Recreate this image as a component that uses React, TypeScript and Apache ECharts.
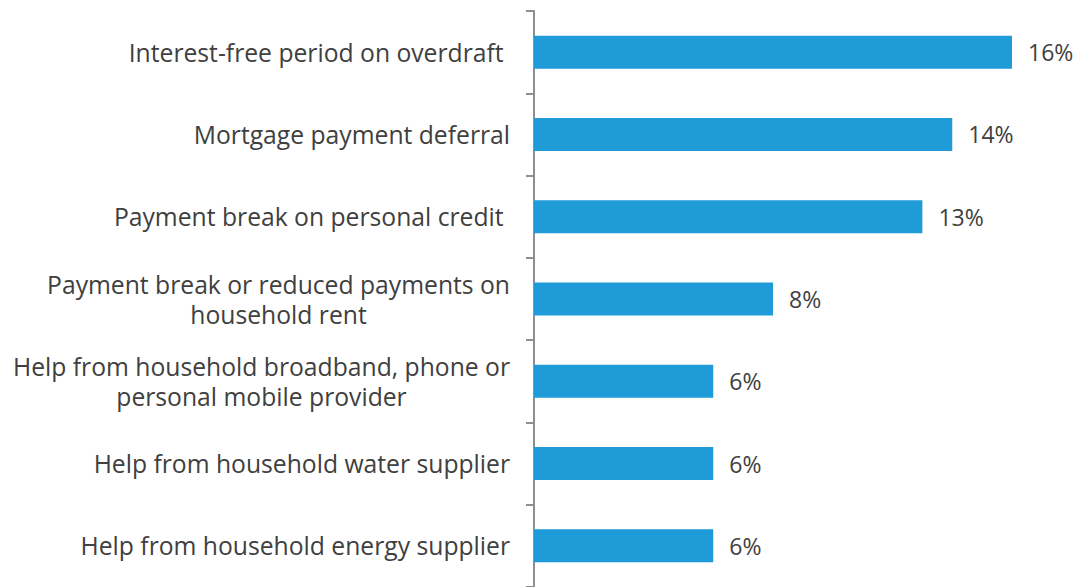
import React, { useEffect, useRef } from "react";
import * as echarts from "echarts";

const categories = [
  "Interest-free period on overdraft ",
  "Mortgage payment deferral",
  "Payment break on personal credit ",
  "Payment break or reduced payments on\nhousehold rent",
  "Help from household broadband, phone or\npersonal mobile provider",
  "Help from household water supplier",
  "Help from household energy supplier",
];
const values = [16, 14, 13, 8, 6, 6, 6];

const FONT = "Open Sans";
const FS = 24.7;

export default function App() {
  const ref = useRef<HTMLDivElement>(null);
  useEffect(() => {
    if (!ref.current) return;
    const chart = echarts.init(ref.current, undefined, { renderer: "svg" });
    chart.setOption({
      animation: false,
      grid: { left: 534, right: 64, top: 11, height: 576, containLabel: false },
      xAxis: {
        type: "value",
        min: 0,
        max: 16,
        show: false,
      },
      yAxis: {
        type: "category",
        inverse: true,
        data: categories,
        axisLine: { show: true, lineStyle: { color: "#8f8f8f", width: 2 } },
        axisTick: { show: true, length: 8, lineStyle: { color: "#8f8f8f", width: 2 } },
        axisLabel: {
          margin: 24,
          fontFamily: FONT,
          fontSize: FS,
          color: "#404040",
          lineHeight: 30,
          align: "right",
          formatter: (v: string) =>
            v
              .split("\n")
              .map((l) => `{c|${l}}`)
              .join("\n"),
          rich: {
            c: {
              align: "center",
              fontFamily: FONT,
              fontSize: FS,
              color: "#404040",
              lineHeight: 30,
            },
          },
        },
        splitLine: { show: false },
      },
      series: [
        {
          type: "bar",
          data: values,
          barWidth: 33,
          itemStyle: { color: "#1f9bd8" },
          label: {
            show: true,
            position: "right",
            distance: 16,
            formatter: "{c}%",
            fontFamily: FONT,
            fontSize: 23,
            color: "#404040",
          },
        },
      ],
    });
    return () => chart.dispose();
  }, []);
  return <div ref={ref} style={{ width: 1076, height: 587, position: "absolute", left: 0, top: 0 }} />;
}
